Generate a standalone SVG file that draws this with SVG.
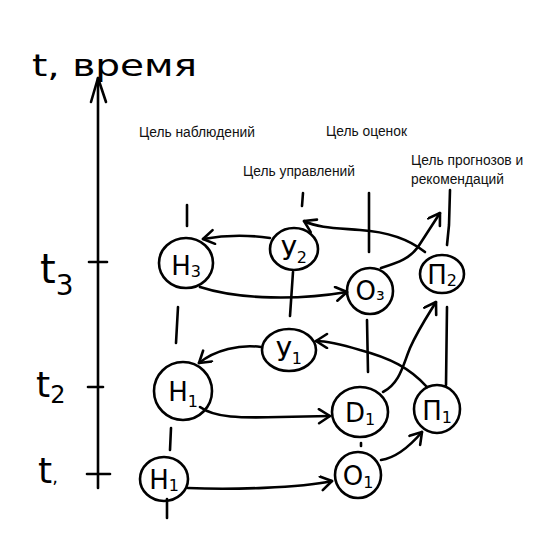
<svg xmlns="http://www.w3.org/2000/svg" width="549" height="536" viewBox="0 0 549 536">
<defs>
<marker id="ah" markerUnits="userSpaceOnUse" markerWidth="20" markerHeight="20" refX="13" refY="8" orient="auto">
<path d="M2,1 L13,8 L2,15" fill="none" stroke="#000" stroke-width="2.6" stroke-linecap="round" stroke-linejoin="round"/>
</marker>
</defs>
<style>
.ln{fill:none;stroke:#000;stroke-width:2.6;stroke-linecap:round;stroke-linejoin:round}
.ar{fill:none;stroke:#000;stroke-width:2.6;stroke-linecap:round;marker-end:url(#ah)}
.nd{fill:none;stroke:#000;stroke-width:2.6}
.nl{font-family:"DejaVu Sans",sans-serif;font-size:26px;fill:#000;text-anchor:middle}
.sb{font-size:16px}
.cap{font-family:"Liberation Sans",Arial,sans-serif;font-size:13.8px;fill:#111}
.hw{font-family:"DejaVu Sans",sans-serif;fill:#000}
</style>
<rect width="549" height="536" fill="#fff"/>

<g id="axis">
<path class="ln" d="M98,78 L98,488"/>
<path class="ln" d="M91,102 L98,78 L106,102"/>
<path class="ln" d="M89,262 L107,262"/>
<path class="ln" d="M88,387 L103,387"/>
<path class="ln" d="M87,474 L110,474"/>
<text class="hw" x="32" y="76" font-size="31" textLength="165" lengthAdjust="spacingAndGlyphs">t, время</text>
<text class="hw" x="40" y="283" font-size="40">t<tspan font-size="28" dy="12">3</tspan></text>
<text class="hw" x="36" y="397" font-size="36">t<tspan font-size="24" dy="6">2</tspan></text>
<text class="hw" x="38" y="483" font-size="36">t<tspan font-size="18" dy="0">,</tspan></text>
</g>

<g id="captions">
<text class="cap" x="139" y="137">Цель наблюдений</text>
<text class="cap" x="326" y="136">Цель оценок</text>
<text class="cap" x="243" y="176">Цель управлений</text>
<text class="cap" x="411" y="165">Цель прогнозов и</text>
<text class="cap" x="411" y="184">рекомендаций</text>
</g>

<g id="connectors">
<path class="ar" d="M188,488 C230,490 300,488 332,481"/>
<path class="ar" d="M381,460 C395,458 410,446 422,432"/>
<path class="ar" d="M200,407 C215,418 240,418 280,417 L330,416"/>
<path class="ar" d="M427,387 C410,368 390,358 360,350 C340,344 327,341 316,341"/>
<path class="ar" d="M261,347 C240,344 215,350 199,363"/>
<path class="ar" d="M383,392 C400,383 403,365 410,348 C418,330 428,315 436,302"/>
<path class="ar" d="M200,287 C240,300 300,300 347,292"/>
<path class="ar" d="M381,268 C400,262 410,258 418,247 L440,213"/>
<path class="ar" d="M425,252 C410,240 390,232 360,230 C335,228 318,228 304,221"/>
<path class="ar" d="M270,238 C250,235 225,235 203,239"/>
<path class="ln" d="M187,205 L187,226"/>
<path class="ln" d="M178,307 L176,343"/>
<path class="ln" d="M171,428 L170,450"/>
<path class="ln" d="M167,499 L167,518"/>
<path class="ln" d="M303,193 L302,206"/>
<path class="ln" d="M369,193 L369,252"/>
<path class="ln" d="M293,272 L290,316"/>
<path class="ln" d="M367,320 L368,372"/>
<path class="ln" d="M361,443 L361,446"/>
<path class="ln" d="M450,190 L449,225 L447,245"/>
<path class="ln" d="M447,307 L446,385"/>
</g>

<g id="n-H3"><ellipse class="nd" cx="186" cy="263" rx="27" ry="25"/><text class="nl" x="186" y="275">Н<tspan class="sb" dy="2">3</tspan></text></g>
<g id="n-U2"><ellipse class="nd" cx="294" cy="249" rx="24" ry="21"/><text class="nl" x="294" y="260">У<tspan class="sb" dy="3">2</tspan></text></g>
<g id="n-O3"><ellipse class="nd" cx="370" cy="291" rx="23" ry="23"/><text class="nl" x="370" y="300" font-size="20">О<tspan class="sb" dy="0">з</tspan></text></g>
<g id="n-P2"><ellipse class="nd" cx="442" cy="274" rx="22" ry="19"/><text class="nl" x="442" y="284">П<tspan class="sb" dy="2">2</tspan></text></g>
<g id="n-U1"><ellipse class="nd" cx="289" cy="350" rx="27" ry="21"/><text class="nl" x="289" y="361">У<tspan class="sb" dy="3">1</tspan></text></g>
<g id="n-H2"><ellipse class="nd" cx="183" cy="391" rx="29" ry="29"/><text class="nl" x="183" y="401">Н<tspan class="sb" dy="6">1</tspan></text></g>
<g id="n-O2"><ellipse class="nd" cx="360" cy="412" rx="28" ry="25"/><text class="nl" x="360" y="422">D<tspan class="sb" dy="3">1</tspan></text></g>
<g id="n-P1"><ellipse class="nd" cx="437" cy="409" rx="23" ry="24"/><text class="nl" x="437" y="420">П<tspan class="sb" dy="3">1</tspan></text></g>
<g id="n-H1"><ellipse class="nd" cx="164" cy="479" rx="24" ry="22"/><text class="nl" x="164" y="489">Н<tspan class="sb" dy="2">1</tspan></text></g>
<g id="n-O1"><ellipse class="nd" cx="358" cy="475" rx="23" ry="23"/><text class="nl" x="358" y="485">О<tspan class="sb" dy="3">1</tspan></text></g>
</svg>
